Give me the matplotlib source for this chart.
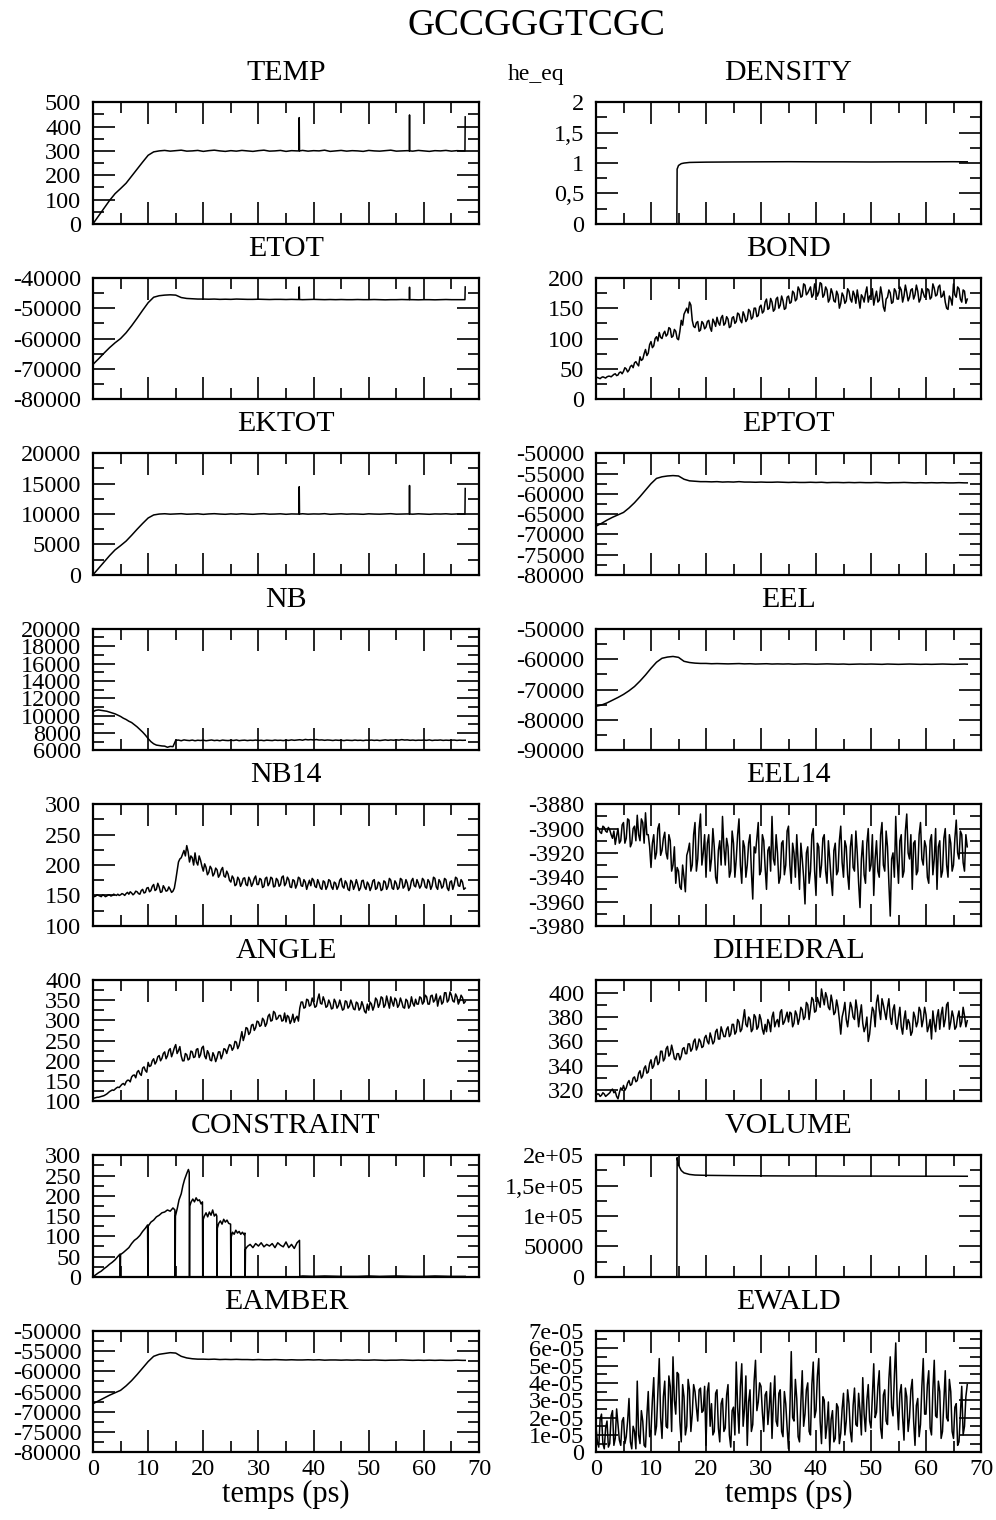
import numpy as np
import matplotlib
matplotlib.use("Agg")
import matplotlib.pyplot as plt
from matplotlib.ticker import MultipleLocator, FixedLocator, FixedFormatter

plt.rcParams['font.family'] = ['Liberation Serif', 'DejaVu Serif']

# ---------------------------------------------------------------- data
main_title = "GCCGGGTCGC"
sub_label = "he_eq"
x_label = "temps (ps)"
x_ticks = [0, 10, 20, 30, 40, 50, 60, 70]
x_ticklabels = ["0", "10", "20", "30", "40", "50", "60", "70"]

# sampling grids (ps)
DT_FINE = 0.5          # samples at 0, 0.5, 1.0 ...
MID_OFFSET = 0.25      # extra samples at 0.25, 0.75 ...
t_coarse = np.append(np.arange(0.0, 68.0, 1.0), 67.5)

# spikes at the restarts (TEMP, EKTOT, ETOT)
spike_t = [37.35, 37.4, 37.45, 57.35, 57.4, 57.45, 67.45]
temp_spike = [300, 437, 300, 300, 448, 300, 300]
ektot_spike = [10000, 14500, 10000, 10000, 14700, 10000, 10000]
etot_spike = [-47150, -43000, -47150, -47200, -43100, -47200, -47200]

temp = [0, 32, 64, 96, 124, 145, 167, 196, 225, 254,
        282, 296, 300, 302, 299, 301, 303, 299, 300, 302,
        298, 301, 303, 300, 298, 301, 299, 302, 300, 298,
        301, 303, 299, 300, 302, 298, 301, 300, 302, 299,
        301, 300, 303, 298, 300, 302, 299, 301, 300, 298,
        302, 300, 299, 301, 303, 299, 300, 301, 299, 302,
        300, 298, 301, 300, 302, 299, 301, 300, 440]

ektot = [0, 1050, 2100, 3150, 4100, 4800, 5550, 6500, 7500, 8450,
         9350, 9850, 10000, 10050, 9980, 10020, 10060, 9970, 10000, 10040,
         9950, 10020, 10060, 10000, 9960, 10030, 9980, 10050, 10000, 9960,
         10020, 10060, 9980, 10000, 10040, 9960, 10020, 10000, 10050, 9980,
         10020, 10000, 10060, 9960, 10000, 10040, 9980, 10020, 10000, 9960,
         10040, 10000, 9980, 10020, 10060, 9980, 10000, 10020, 9980, 10040,
         10000, 9960, 10020, 10000, 10040, 9980, 10020, 10000, 14200]

etot = [-68500, -66700, -64800, -63000, -61400, -60000, -58100, -55800, -53300, -50700,
        -48200, -46400, -45900, -45700, -45600, -45700, -46500, -46800, -46900, -47000,
        -47000, -47050, -47000, -47100, -47050, -47100, -47000, -47050, -47100, -47100,
        -47050, -47100, -47150, -47100, -47100, -47150, -47100, -47150, -47200, -47150,
        -47100, -47150, -47200, -47150, -47200, -47150, -47200, -47200, -47150, -47200,
        -47200, -47150, -47200, -47250, -47200, -47200, -47150, -47200, -47200, -47250,
        -47200, -47200, -47250, -47200, -47150, -47200, -47200, -47200, -43000]

eptot = [-68000, -67300, -66500, -65800, -65200, -64600, -63500, -62200, -60700, -59100,
         -57500, -56200, -55800, -55600, -55500, -55600, -56400, -56800, -56900, -57000,
         -57000, -57050, -57000, -57100, -57050, -57100, -57000, -57100, -57100, -57150,
         -57100, -57150, -57150, -57100, -57150, -57200, -57150, -57200, -57200, -57150,
         -57200, -57150, -57250, -57200, -57200, -57250, -57200, -57250, -57200, -57250,
         -57250, -57200, -57250, -57300, -57250, -57250, -57200, -57250, -57300, -57250,
         -57300, -57250, -57300, -57250, -57300, -57300, -57250, -57300, -57300]

eamber = [-68000, -67300, -66600, -65900, -65300, -64700, -63600, -62300, -60800, -59200,
          -57600, -56300, -55800, -55600, -55400, -55500, -56300, -56700, -56900, -57000,
          -57000, -57050, -57000, -57100, -57050, -57100, -57050, -57100, -57100, -57150,
          -57100, -57150, -57150, -57100, -57150, -57200, -57150, -57200, -57200, -57150,
          -57200, -57150, -57250, -57200, -57200, -57250, -57200, -57250, -57200, -57250,
          -57250, -57200, -57250, -57300, -57250, -57250, -57200, -57250, -57300, -57250,
          -57300, -57250, -57300, -57250, -57300, -57300, -57250, -57300, -57300]

eel = [-75500, -75100, -74400, -73500, -72600, -71600, -70400, -69000, -67200, -65200,
       -63000, -61000, -59700, -59300, -59100, -59400, -60700, -61100, -61300, -61400,
       -61400, -61500, -61450, -61500, -61550, -61500, -61450, -61550, -61500, -61600,
       -61550, -61500, -61600, -61550, -61600, -61550, -61650, -61600, -61550, -61600,
       -61650, -61600, -61550, -61600, -61650, -61600, -61700, -61650, -61600, -61650,
       -61600, -61650, -61700, -61600, -61650, -61700, -61650, -61600, -61650, -61700,
       -61650, -61700, -61650, -61600, -61650, -61700, -61650, -61600, -61650]

# density / volume: explicit time points (box appears at ~14.75 ps)
dv_t = [0, 14.7, 14.75, 15, 15.5, 16, 17, 18, 20, 25, 30, 35, 40, 45, 50, 55, 60, 65, 67.5]
density = [0, 0, 0.90, 0.96, 0.99, 1.0, 1.01, 1.012, 1.015, 1.018, 1.02, 1.022, 1.02,
           1.02, 1.018, 1.02, 1.02, 1.022, 1.02]
volume = [0, 0, 196000, 184000, 175000, 171000, 168500, 167500, 167000, 166500,
          166200, 166000, 166000, 165800, 165800, 165700, 165600, 165600, 165500]

# fine-sampled series: values at 0, 0.5, ... 67.5 and at 0.25, 0.75, ... 67.25
bond = [35, 35, 36, 36, 37, 38, 39, 42, 40, 45,
        46, 50, 48, 56, 60, 58, 70, 66, 82, 76,
        95, 88, 103, 110, 100, 112, 107, 116, 104, 112,
        98, 130, 140, 150, 160, 130, 118, 128, 114, 125,
        119, 130, 112, 127, 135, 122, 138, 125, 132, 120,
        136, 128, 140, 126, 138, 132, 145, 135, 150, 138,
        155, 145, 165, 150, 160, 148, 168, 155, 162, 150,
        170, 160, 175, 165, 180, 170, 188, 175, 185, 172,
        183, 176, 190, 172, 180, 165, 175, 160, 172, 158,
        170, 162, 178, 160, 172, 180, 150, 168, 175, 160,
        170, 155, 178, 163, 172, 145, 168, 175, 160, 178,
        165, 180, 170, 176, 168, 182, 172, 178, 165, 175,
        170, 180, 168, 183, 172, 188, 170, 160, 148, 165,
        190, 168, 182, 160, 178, 165]
bond_mid = [36, 34, 37, 35, 38, 37, 41, 39, 44, 42,
            52, 45, 54, 52, 62, 55, 64, 75, 72, 90,
            85, 100, 96, 102, 108, 104, 118, 102, 115, 100,
            112, 122, 145, 142, 155, 120, 126, 112, 128, 116,
            128, 118, 132, 120, 126, 134, 122, 136, 118, 134,
            125, 142, 130, 144, 128, 148, 132, 150, 136, 152,
            142, 160, 148, 166, 145, 165, 150, 170, 148, 168,
            158, 178, 162, 185, 168, 190, 172, 180, 168, 190,
            170, 192, 168, 185, 160, 182, 162, 178, 150, 175,
            158, 182, 165, 178, 158, 165, 172, 160, 185, 170,
            182, 168, 160, 185, 152, 165, 180, 158, 182, 165,
            185, 160, 188, 162, 180, 165, 188, 160, 182, 168,
            182, 165, 190, 170, 185, 168, 178, 150, 170, 155,
            172, 185, 165, 180, 158]

nb = [10450, 10600, 10650, 10600, 10550, 10500, 10400, 10300, 10200, 10050,
      9900, 9700, 9550, 9350, 9200, 8950, 8700, 8400, 8100, 7750,
      7350, 7000, 6750, 6600, 6550, 6500, 6480, 6350, 6450, 6420,
      7150, 7180, 7100, 7200, 7150, 7120, 7180, 7100, 7160, 7130,
      7170, 7100, 7150, 7190, 7120, 7160, 7100, 7180, 7140, 7120,
      7160, 7130, 7190, 7110, 7150, 7170, 7120, 7160, 7140, 7180,
      7130, 7160, 7110, 7170, 7150, 7120, 7180, 7140, 7160, 7120,
      7170, 7140, 7200, 7150, 7180, 7220, 7160, 7250, 7200, 7230,
      7190, 7240, 7180, 7200, 7150, 7190, 7170, 7130, 7180, 7150,
      7160, 7120, 7170, 7150, 7130, 7180, 7140, 7160, 7120, 7170,
      7150, 7180, 7140, 7170, 7120, 7160, 7200, 7150, 7190, 7160,
      7200, 7170, 7230, 7180, 7200, 7150, 7180, 7140, 7170, 7160,
      7180, 7150, 7200, 7130, 7170, 7160, 7190, 7140, 7170, 7150,
      7160, 7180, 7140, 7170, 7150, 7160]

nb14 = [150, 149, 150, 148, 150, 149, 151, 150, 151, 152,
        151, 152, 153, 152, 154, 153, 156, 152, 160, 155,
        163, 158, 168, 160, 164, 156, 162, 158, 160, 157,
        175, 205, 212, 224, 232, 205, 212, 220, 200, 208,
        190, 196, 188, 194, 186, 192, 184, 196, 180, 185,
        172, 178, 168, 176, 170, 179, 166, 175, 170, 182,
        168, 176, 165, 180, 170, 178, 165, 175, 168, 182,
        170, 176, 163, 174, 168, 178, 165, 172, 168, 166,
        175, 163, 170, 160, 172, 165, 174, 160, 170, 165,
        178, 162, 170, 158, 172, 166, 168, 162, 175, 160,
        168, 164, 176, 162, 170, 160, 172, 165, 175, 160,
        170, 163, 176, 165, 170, 162, 178, 164, 170, 166,
        175, 162, 172, 166, 178, 160, 172, 165, 176, 158,
        174, 168, 178, 165, 172, 162]
nb14_mid = [148, 151, 149, 151, 148, 151, 149, 152, 150, 150,
            153, 150, 155, 156, 151, 157, 153, 158, 154, 162,
            156, 165, 158, 170, 155, 166, 157, 164, 155, 162,
            190, 210, 218, 215, 222, 215, 200, 205, 215, 198,
            202, 184, 198, 182, 195, 180, 192, 182, 190, 175,
            182, 166, 180, 165, 178, 168, 180, 165, 178, 168,
            178, 163, 178, 166, 180, 164, 178, 165, 180, 166,
            180, 164, 176, 162, 180, 166, 176, 160, 175, 178,
            165, 176, 162, 174, 160, 176, 164, 172, 160, 175,
            165, 174, 160, 175, 160, 176, 158, 174, 164, 172,
            158, 174, 160, 172, 158, 174, 160, 178, 162, 174,
            160, 178, 162, 176, 158, 174, 166, 176, 162, 178,
            164, 176, 160, 180, 164, 176, 162, 178, 162, 172,
            160, 180, 166, 176, 160]

eel14 = [-3902, -3900, -3904, -3899, -3903, -3901, -3908, -3913, -3900, -3910,
         -3895, -3908, -3893, -3912, -3898, -3889, -3910, -3895, -3887, -3905,
         -3932, -3905, -3920, -3896, -3918, -3903, -3925, -3910, -3930, -3945,
         -3935, -3950, -3940, -3922, -3912, -3930, -3895, -3925, -3888, -3920,
         -3940, -3905, -3925, -3915, -3945, -3910, -3890, -3930, -3915, -3935,
         -3912, -3925, -3892, -3945, -3915, -3930, -3905, -3958, -3920, -3895,
         -3935, -3910, -3950, -3915, -3890, -3930, -3920, -3940, -3910, -3930,
         -3898, -3945, -3920, -3905, -3950, -3925, -3962, -3915, -3935, -3900,
         -3955, -3915, -3930, -3905, -3945, -3925, -3955, -3912, -3935, -3898,
         -3940, -3915, -3950, -3905, -3935, -3920, -3965, -3910, -3945, -3900,
         -3930, -3955, -3910, -3940, -3895, -3935, -3915, -3972, -3920, -3890,
         -3945, -3905, -3935, -3888, -3925, -3950, -3910, -3935, -3895, -3930,
         -3915, -3945, -3905, -3925, -3950, -3910, -3935, -3900, -3940, -3912,
         -3930, -3893, -3925, -3905, -3935, -3915]
eel14_mid = [-3899, -3903, -3898, -3902, -3899, -3905, -3902, -3906, -3912, -3897,
             -3912, -3892, -3915, -3900, -3910, -3905, -3892, -3912, -3905, -3915,
             -3912, -3925, -3900, -3922, -3908, -3920, -3905, -3935, -3915, -3932,
             -3948, -3930, -3952, -3918, -3935, -3905, -3935, -3900, -3930, -3905,
             -3912, -3935, -3900, -3940, -3918, -3930, -3915, -3908, -3940, -3902,
             -3940, -3905, -3930, -3910, -3940, -3912, -3935, -3915, -3908, -3938,
             -3905, -3932, -3918, -3935, -3925, -3905, -3945, -3912, -3938, -3902,
             -3930, -3912, -3940, -3928, -3912, -3940, -3920, -3945, -3905, -3935,
             -3912, -3940, -3908, -3935, -3910, -3942, -3918, -3938, -3910, -3928,
             -3910, -3938, -3915, -3932, -3902, -3945, -3925, -3938, -3912, -3935,
             -3905, -3925, -3935, -3905, -3930, -3902, -3945, -3925, -3940, -3925,
             -3910, -3940, -3902, -3920, -3905, -3912, -3938, -3905, -3925, -3910,
             -3940, -3910, -3938, -3900, -3915, -3940, -3908, -3930, -3905, -3935,
             -3908, -3920, -3902, -3928, -3905]

angle = [108, 109, 110, 112, 114, 118, 124, 128, 130, 135,
         138, 144, 148, 152, 160, 165, 172, 168, 182, 176,
         196, 188, 205, 198, 213, 206, 222, 212, 230, 220,
         240, 225, 212, 200, 215, 205, 222, 210, 230, 215,
         236, 205, 218, 200, 212, 208, 222, 215, 228, 230,
         238, 232, 246, 238, 272, 262, 280, 270, 290, 282,
         296, 288, 300, 292, 315, 300, 318, 305, 312, 300,
         296, 308, 300, 295, 310, 330, 345, 332, 350, 338,
         345, 335, 365, 340, 348, 335, 342, 330, 345, 336,
         338, 328, 346, 335, 340, 326, 342, 330, 336, 318,
         325, 340, 335, 350, 340, 355, 338, 345, 358, 335,
         350, 338, 345, 330, 348, 336, 342, 352, 340, 355,
         345, 358, 340, 362, 350, 335, 360, 345, 368, 350,
         362, 345, 358, 348, 356, 346]
angle_mid = [108, 110, 111, 113, 116, 121, 126, 127, 133, 134,
             142, 140, 152, 148, 164, 158, 176, 164, 185, 172,
             186, 200, 192, 210, 200, 218, 205, 226, 210, 232,
             218, 235, 200, 218, 202, 224, 208, 228, 208, 232,
             212, 225, 202, 220, 198, 222, 205, 230, 218, 240,
             226, 248, 230, 255, 250, 282, 265, 288, 275, 298,
             285, 305, 285, 310, 298, 322, 302, 312, 298, 318,
             312, 292, 315, 305, 298, 345, 330, 352, 335, 355,
             332, 352, 342, 358, 332, 350, 328, 352, 330, 350,
             325, 348, 330, 350, 328, 345, 325, 346, 322, 340,
             345, 325, 355, 332, 358, 332, 360, 330, 345, 355,
             332, 355, 332, 352, 330, 358, 335, 340, 358, 340,
             362, 340, 360, 345, 365, 352, 340, 368, 345, 370,
             348, 365, 340, 362, 342]

dihedral = [316, 317, 316, 317, 316, 318, 321, 319, 313, 322,
            324, 322, 328, 325, 331, 328, 336, 332, 340, 335,
            345, 340, 348, 343, 352, 346, 356, 350, 352, 345,
            350, 348, 355, 350, 358, 354, 362, 356, 360, 356,
            365, 358, 363, 360, 370, 362, 368, 364, 372, 366,
            374, 368, 376, 370, 386, 372, 378, 370, 380, 372,
            378, 366, 368, 375, 380, 372, 378, 384, 374, 380,
            376, 383, 375, 382, 379, 386, 380, 390, 387, 394,
            385, 392, 403, 390, 396, 386, 392, 384, 388, 366,
            385, 378, 382, 388, 378, 386, 382, 375, 372, 360,
            378, 385, 392, 386, 395, 384, 388, 380, 386, 375,
            380, 372, 378, 370, 375, 368, 380, 376, 385, 378,
            382, 372, 362, 375, 380, 370, 388, 378, 392, 376,
            380, 372, 385, 376, 381, 377]
dihedral_mid = [317, 315, 318, 315, 317, 320, 318, 315, 318, 320,
                320, 326, 324, 330, 327, 334, 330, 338, 334, 342,
                338, 346, 341, 352, 344, 354, 348, 357, 346, 350,
                345, 354, 350, 358, 352, 360, 353, 362, 355, 363,
                360, 367, 358, 368, 362, 372, 364, 370, 364, 374,
                366, 378, 368, 378, 374, 380, 368, 382, 370, 382,
                370, 374, 378, 368, 384, 376, 372, 386, 376, 384,
                384, 372, 385, 374, 388, 378, 392, 378, 396, 384,
                396, 388, 396, 400, 388, 398, 382, 394, 378, 380,
                392, 372, 392, 380, 394, 372, 390, 368, 380, 366,
                388, 372, 398, 378, 390, 378, 395, 374, 390, 370,
                388, 366, 385, 378, 365, 384, 372, 388, 372, 388,
                368, 378, 385, 368, 386, 382, 372, 390, 370, 385,
                370, 380, 372, 388, 372]

ewald_e5 = [1.5, 0.3, 2.2, 0.2, 1.8, 0.5, 2.4, 0.8, 1.6, 0.4,
            2.0, 0.9, 3.1, 0.2, 1.2, 4.1, 0.5, 1.8, 0.3, 3.5,
            1.2, 4.3, 1.5, 5.4, 0.8, 4.1, 1.4, 3.8, 5.5, 2.2,
            4.5, 0.6, 3.2, 1.5, 3.6, 2.2, 3.5, 1.8, 3.7, 2.4,
            0.4, 4.0, 2.8, 1.2, 3.6, 0.6, 3.1, 1.4, 3.9, 0.3,
            2.6, 5.2, 1.1, 5.1, 2.5, 0.4, 3.6, 1.6, 5.3, 2.9,
            3.8, 1.2, 3.5, 2.6, 0.8, 4.4, 1.5, 3.6, 0.9, 2.8,
            0.2, 5.8, 1.8, 3.1, 0.6, 4.7, 2.2, 4.0, 1.0, 5.2,
            2.4, 5.4, 0.5, 3.0, 1.6, 0.1, 2.4, 0.8, 2.6, 1.1,
            3.4, 1.8, 2.8, 0.6, 3.7, 1.5, 2.4, 4.3, 1.2, 3.9,
            1.4, 5.1, 2.3, 4.7, 0.8, 3.6, 1.6, 5.5, 2.1, 6.3,
            1.3, 3.9, 0.7, 3.2, 2.0, 4.2, 0.4, 3.1, 1.6, 5.4,
            2.2, 4.7, 1.0, 5.3, 2.0, 3.5, 1.2, 4.7, 1.8, 3.5,
            0.8, 2.8, 0.6, 3.8, 1.5, 3.9]
ewald_mid_e5 = [0.6, 1.9, 0.5, 1.4, 0.3, 2.1, 0.4, 2.5, 0.7, 1.8,
                0.5, 1.8, 0.6, 1.5, 0.2, 1.0, 2.4, 0.4, 2.1, 0.9,
                3.0, 1.0, 3.5, 2.0, 3.2, 1.5, 4.4, 1.2, 3.0, 4.6,
                1.8, 3.9, 1.0, 4.2, 1.2, 3.9, 2.6, 3.6, 2.3, 3.8,
                3.5, 1.5, 1.0, 3.4, 1.4, 2.8, 1.2, 3.3, 1.0, 2.4,
                1.0, 2.6, 3.8, 1.5, 4.4, 2.9, 1.2, 4.1, 2.4, 4.0,
                2.3, 3.3, 1.6, 4.0, 2.9, 1.8, 3.4, 1.2, 3.5, 1.4,
                2.5, 2.0, 4.2, 0.9, 2.9, 1.5, 3.6, 1.2, 3.9, 2.0,
                4.4, 1.8, 3.2, 0.8, 2.9, 1.9, 0.6, 2.8, 0.5, 2.5,
                1.0, 3.6, 1.2, 2.7, 1.6, 3.4, 1.0, 2.2, 3.0, 1.8,
                3.3, 2.0, 3.8, 1.4, 3.3, 1.8, 4.2, 2.6, 4.4, 2.8,
                3.4, 2.0, 3.7, 1.2, 3.6, 1.8, 2.7, 0.9, 3.8, 2.2,
                3.9, 1.4, 3.6, 2.1, 4.1, 0.8, 2.9, 2.0, 4.2, 1.2,
                2.6, 0.4, 2.2, 1.0, 3.2]
EWALD_UNIT = 1e-5

# constraint: explicit (time, value) with drops to 0 at restarts
constraint_t = [0, 0.5, 1, 1.5, 2, 2.5, 3, 3.5, 4, 4.5, 4.9, 4.95, 5.0, 5.5, 6, 6.5, 7, 7.5,
                8, 8.5, 9, 9.5, 9.9, 9.95, 10.0, 10.5, 11, 11.5, 12, 12.5, 13, 13.5, 14,
                14.5, 14.85, 14.9, 14.95, 15.3, 15.6, 16, 16.3, 16.6, 17, 17.3, 17.45,
                17.5, 17.55, 17.8, 18.1, 18.4, 18.7, 19, 19.3, 19.6, 19.85, 19.9, 19.95,
                20.2, 20.5, 20.8, 21.1, 21.4, 21.7, 22, 22.3, 22.45, 22.5, 22.55, 22.8,
                23.1, 23.4, 23.7, 24, 24.3, 24.6, 24.95, 25.0, 25.05, 25.3, 25.6, 25.9,
                26.2, 26.5, 26.8, 27.1, 27.4, 27.55, 27.6, 27.65, 28, 28.5, 29, 29.5, 30,
                30.5, 31, 31.5, 32, 32.5, 33, 33.5, 34, 34.5, 35, 35.5, 36, 36.5, 37,
                37.45, 37.5, 38, 40, 42, 45, 48, 50, 52, 55, 58, 60, 62, 65, 67.5]
constraint_v = [0, 5, 10, 14, 20, 25, 31, 36, 42, 50, 56, 0, 55, 60, 66, 72, 82, 90,
                95, 102, 112, 120, 128, 0, 125, 135, 140, 148, 152, 158, 160, 165, 162,
                170, 165, 0, 150, 170, 190, 205, 225, 240, 255, 265, 258,
                0, 175, 185, 192, 185, 195, 188, 190, 180, 185, 0, 140,
                150, 158, 148, 160, 152, 165, 150, 155, 150, 0, 120, 132,
                138, 130, 142, 135, 140, 132, 130, 0, 98, 110, 105, 115,
                108, 112, 105, 110, 104, 108, 0, 68, 75, 80, 72, 82, 76,
                84, 74, 80, 76, 82, 72, 84, 78, 74, 86, 72, 80, 70, 84,
                90, 1, 2, 1, 2, 1, 1, 2, 1, 2, 1, 1, 2, 1, 1]

# ---------------------------------------------------------------- helpers
def merge_points(t, v, ts, vs):
    tt = np.concatenate([np.asarray(t, float), np.asarray(ts, float)])
    vv = np.concatenate([np.asarray(v, float), np.asarray(vs, float)])
    o = np.argsort(tt, kind="stable")
    return tt[o], vv[o]


def fine_series(main, mid, scale=1.0):
    t_main = np.arange(len(main)) * DT_FINE
    t_mid = MID_OFFSET + np.arange(len(mid)) * DT_FINE
    t, v = merge_points(t_main, main, t_mid, mid)
    return t, v * scale


def fine_time(v):
    return np.arange(len(v)) * DT_FINE


def rng(a, b, s):
    return list(np.arange(a, b + s / 2, s))


temp_t, temp_v = merge_points(t_coarse, temp, spike_t, temp_spike)
ektot_t, ektot_v = merge_points(t_coarse, ektot, spike_t, ektot_spike)
etot_t, etot_v = merge_points(t_coarse, etot, spike_t, etot_spike)
bond_t, bond_v = fine_series(bond, bond_mid)
nb14_t, nb14_v = fine_series(nb14, nb14_mid)
eel14_t, eel14_v = fine_series(eel14, eel14_mid)
angle_t, angle_v = fine_series(angle, angle_mid)
dih_t, dih_v = fine_series(dihedral, dihedral_mid)
ewald_t, ewald_v = fine_series(ewald_e5, ewald_mid_e5, EWALD_UNIT)

vol_labels = ["0", "50000", "1e+05", "1,5e+05", "2e+05"]
dens_labels = ["0", "0,5", "1", "1,5", "2"]
ewald_labels = ["0", "1e-05", "2e-05", "3e-05", "4e-05", "5e-05", "6e-05", "7e-05"]


def int_labels(ticks):
    return ["%d" % round(x) for x in ticks]


# (col, row, title, t, v, ylim, yticks, yticklabels, yminor)
panels = [
    (0, 0, "TEMP", temp_t, temp_v, (0, 500), rng(0, 500, 100), None, 50),
    (1, 0, "DENSITY", dv_t, density, (0, 2), [0, 0.5, 1, 1.5, 2], dens_labels, 0.25),
    (0, 1, "ETOT", etot_t, etot_v, (-80000, -40000), rng(-80000, -40000, 10000), None, 5000),
    (1, 1, "BOND", bond_t, bond_v, (0, 200), rng(0, 200, 50), None, 25),
    (0, 2, "EKTOT", ektot_t, ektot_v, (0, 20000), rng(0, 20000, 5000), None, 2500),
    (1, 2, "EPTOT", t_coarse, eptot, (-80000, -50000), rng(-80000, -50000, 5000), None, 2500),
    (0, 3, "NB", fine_time(nb), nb, (6000, 20000), rng(6000, 20000, 2000), None, 1000),
    (1, 3, "EEL", t_coarse, eel, (-90000, -50000), rng(-90000, -50000, 10000), None, 5000),
    (0, 4, "NB14", nb14_t, nb14_v, (100, 300), rng(100, 300, 50), None, 25),
    (1, 4, "EEL14", eel14_t, eel14_v, (-3980, -3880), rng(-3980, -3880, 20), None, 10),
    (0, 5, "ANGLE", angle_t, angle_v, (100, 400), rng(100, 400, 50), None, 25),
    (1, 5, "DIHEDRAL", dih_t, dih_v, (311, 410.5), rng(320, 400, 20), None, 10),
    (0, 6, "CONSTRAINT", constraint_t, constraint_v, (0, 300), rng(0, 300, 50), None, 25),
    (1, 6, "VOLUME", dv_t, volume, (0, 200000), rng(0, 200000, 50000), vol_labels, 25000),
    (0, 7, "EAMBER", t_coarse, eamber, (-80000, -50000), rng(-80000, -50000, 5000), None, 2500),
    (1, 7, "EWALD", ewald_t, ewald_v, (0, 7e-5),
     [i * 1e-5 for i in range(8)], ewald_labels, 0.5e-5),
]

# ---------------------------------------------------------------- figure
W, H = 996, 1520
fig = plt.figure(figsize=(W / 100, H / 100), dpi=100)

col_x = [93, 596]
col_w = [386, 385]
row_top0 = 102.3
row_step = 175.5
ax_h = 121.5

TICK_FS = 17.5
TITLE_FS = 21.5

for col, row, title, t, v, ylim, yt, ylab, ymin in panels:
    top = row_top0 + row * row_step
    ax = fig.add_axes([col_x[col] / W, 1 - (top + ax_h) / H, col_w[col] / W, ax_h / H])
    ax.plot(t, v, color="black", lw=1.1)
    ax.set_xlim(0, 70)
    ax.set_ylim(*ylim)
    ax.xaxis.set_major_locator(FixedLocator(x_ticks))
    ax.xaxis.set_minor_locator(MultipleLocator(5))
    ax.yaxis.set_major_locator(FixedLocator(yt))
    labels = ylab if ylab is not None else int_labels(yt)
    ax.yaxis.set_major_formatter(FixedFormatter(labels))
    ax.yaxis.set_minor_locator(MultipleLocator(ymin))
    ax.tick_params(which="both", direction="in", top=True, right=True, width=1.2,
                   labelsize=TICK_FS)
    ax.tick_params(which="major", length=15.5)
    ax.tick_params(which="minor", length=7.8)
    ax.tick_params(axis="y", pad=8.5)
    ax.tick_params(axis="x", pad=5)
    if row == 7:
        ax.xaxis.set_major_formatter(FixedFormatter(x_ticklabels))
    else:
        ax.tick_params(axis="x", labelbottom=False)
    for s in ax.spines.values():
        s.set_linewidth(1.6)
    ax.set_title(title, fontsize=TITLE_FS, pad=16)
    if row == 7:
        cx = (col_x[col] + col_w[col] / 2) / W
        fig.text(cx, 1 - 1502 / H, x_label, ha="center", va="baseline", fontsize=22)

fig.text(536 / W, 1 - 35 / H, main_title, ha="center", va="baseline", fontsize=27)
fig.text(536 / W, 1 - 80 / H, sub_label, ha="center", va="baseline", fontsize=17)

fig.savefig("out.png", dpi=100)
